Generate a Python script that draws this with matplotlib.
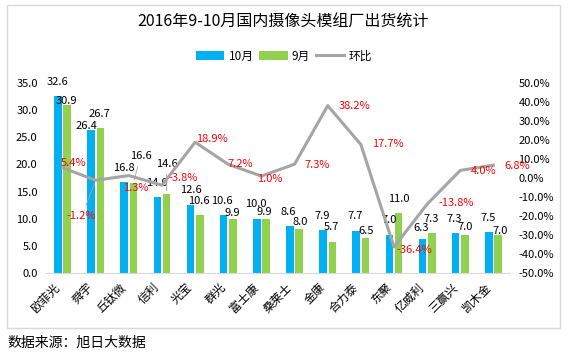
import matplotlib
matplotlib.use('Agg')
import matplotlib.pyplot as plt
import numpy as np
from matplotlib.patches import Rectangle, Patch
from matplotlib.lines import Line2D
from matplotlib.ticker import FuncFormatter

plt.rcParams['font.family'] = ['Noto Sans CJK SC', 'DejaVu Sans']

# ---- data ----
companies = ['欧菲光', '舜宇', '丘钛微', '信利', '光宝', '群光', '富士康',
             '桑莱士', '金康', '合力泰', '东聚', '亿威利', '三赢兴', '凯木金']
oct_vals = [32.6, 26.4, 16.8, 14.0, 12.6, 10.6, 10.0, 8.6, 7.9, 7.7, 7.0, 6.3, 7.3, 7.5]
sep_vals = [30.9, 26.7, 16.6, 14.6, 10.6, 9.9, 9.9, 8.0, 5.7, 6.5, 11.0, 7.3, 7.0, 7.0]
mom_pct = [5.4, -1.2, 1.3, -3.8, 18.9, 7.2, 1.0, 7.3, 38.2, 17.7, -36.4, -13.8, 4.0, 6.8]

# label offsets (pixels) copied from where Excel put them
oct_off = [(0, 14), (-5, 4), (0, 14), (0, 14), (0, 15), (-2, 14), (-1, 15),
           (-2, 14), (-1, 14), (-1, 15), (0, 15), (-1, 11), (-1, 14), (-1, 14)]
sep_off = [(-1, 4), (-1, 14), (7, 27), (0, 30), (-1, 14), (-1, 6), (-2, 7),
           (1, 7), (-1, 15), (1, 7), (0, 14), (-1, 14), (0, 8), (2, 4)]
pct_off = [(11, 5), (-14, -36), (7, -12), (21, 7), (17, 3), (12, 0), (8, -3),
           (23, -1), (27, 0), (27, 0), (20, -3), (29, 1), (23, -1), (24, -1)]
sep_leader = [2, 3]
pct_leader = [1]

BLUE = '#00B0F0'
GREEN = '#92D050'
GRAY = '#A5A5A5'

W, H = 574, 355
fig = plt.figure(figsize=(W / 100, H / 100), dpi=100)
ax = fig.add_axes([46 / W, 1 - 272.7 / H, (510 - 46) / W, (272.7 - 83.3) / H])

x = np.arange(len(companies))
bw = 0.23
ax.bar(x - 0.14, oct_vals, bw, color=BLUE, zorder=2)
ax.bar(x + 0.14, sep_vals, bw, color=GREEN, zorder=2)
ax.set_xlim(-0.5, len(companies) - 0.5)
ax.set_ylim(0, 35)
ax.set_yticks(np.arange(0, 35.1, 5))
ax.yaxis.set_major_formatter(FuncFormatter(lambda v, p: f"{v:.1f}"))
ax.set_xticks(x)
ax.set_xticklabels(companies, rotation=45, ha='right', fontsize=8.5)
ax.tick_params(axis='x', length=0, pad=6)
ax.tick_params(axis='y', length=0, pad=6, labelsize=8)
for s in ['top', 'left', 'right']:
    ax.spines[s].set_visible(False)
ax.spines['bottom'].set_color('#D9D9D9')

for i in range(len(companies)):
    ax.annotate(f"{oct_vals[i]:.1f}", (x[i] - 0.14, oct_vals[i]), xytext=oct_off[i],
                textcoords='offset pixels', ha='center', va='center', fontsize=8, zorder=5)
    ap = dict(arrowstyle='-', color='#A6A6A6', lw=0.6) if i in sep_leader else None
    ax.annotate(f"{sep_vals[i]:.1f}", (x[i] + 0.14, sep_vals[i]), xytext=sep_off[i],
                textcoords='offset pixels', ha='center', va='center', fontsize=8,
                arrowprops=ap, zorder=5)

ax2 = ax.twinx()
ax2.plot(x, mom_pct, color=GRAY, lw=2.2, zorder=3)
ax2.set_ylim(-50, 50)
ax2.set_yticks(np.arange(-50, 50.1, 10))
ax2.yaxis.set_major_formatter(FuncFormatter(lambda v, p: f"{v:.1f}%"))
ax2.tick_params(axis='y', length=0, pad=6, labelsize=8)
for s in ax2.spines.values():
    s.set_visible(False)
for i in range(len(companies)):
    ap = dict(arrowstyle='-', color='#A6A6A6', lw=0.6) if i in pct_leader else None
    ax2.annotate(f"{mom_pct[i]:.1f}%", (x[i], mom_pct[i]), xytext=pct_off[i],
                 textcoords='offset pixels', ha='center', va='center', fontsize=8,
                 color='#FF0000', arrowprops=ap, zorder=5)

fig.text(283.5 / W, 1 - 22 / H, '2016年9-10月国内摄像头模组厂出货统计',
         ha='center', va='center', fontsize=11.5)

handles = [Patch(facecolor=BLUE), Patch(facecolor=GREEN), Line2D([], [], color=GRAY, lw=2.2)]
fig.legend(handles, ['10月', '9月', '环比'], loc='center', bbox_to_anchor=(284 / W, 1 - 56 / H),
           ncol=3, frameon=False, fontsize=8.5, handlelength=2.4, handletextpad=0.35,
           columnspacing=0.5)

fig.patches.append(Rectangle((7 / W, 1 - 328 / H), (560 - 7) / W, (328 - 5) / H,
                             transform=fig.transFigure, fill=False, edgecolor='#D9D9D9', lw=1))
fig.text(7 / W, 1 - 343 / H, '数据来源：旭日大数据', ha='left', va='center', fontsize=10)

fig.savefig('out.png', dpi=100)
